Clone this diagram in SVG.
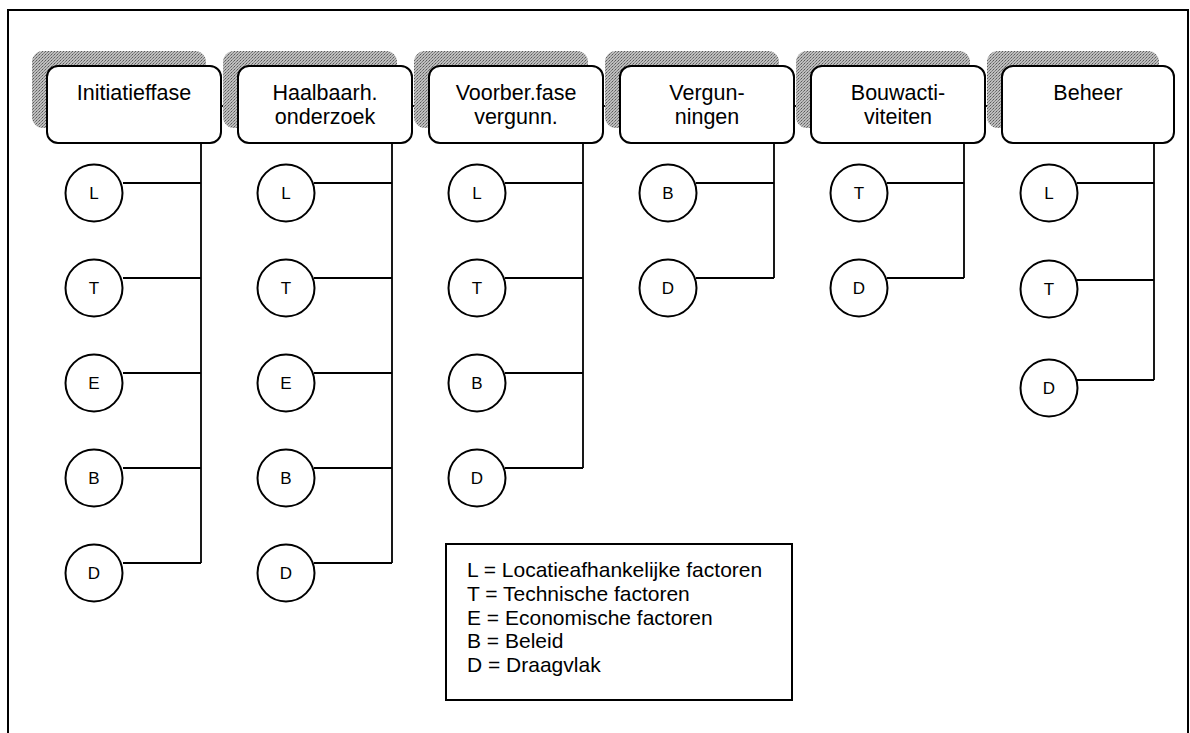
<svg xmlns="http://www.w3.org/2000/svg" width="1190" height="733" viewBox="0 0 1190 733">
<defs>
<pattern id="dots" width="3" height="3" patternUnits="userSpaceOnUse">
<rect width="3" height="3" fill="#bdbdbd"/>
<rect width="1" height="1" fill="#5a5a5a"/>
<rect x="2" y="1" width="1" height="1" fill="#7a7a7a"/>
<rect x="1" y="2" width="1" height="1" fill="#8a8a8a"/>
</pattern>
</defs>
<style>
.shadow{fill:url(#dots);stroke:none}
.box{fill:#fff;stroke:#000;stroke-width:2}
.circ{fill:#fff;stroke:#000;stroke-width:2}
.ln{fill:none;stroke:#000;stroke-width:1.8}
.bt{font-family:"Liberation Sans",Arial,sans-serif;font-size:21.5px;text-anchor:middle;fill:#000}
.ct{font-family:"Liberation Sans",Arial,sans-serif;font-size:17px;text-anchor:middle;fill:#000}
.lt{font-family:"Liberation Sans",Arial,sans-serif;font-size:21px;fill:#000}
</style>
<rect width="1190" height="733" fill="#fff"/>
<path d="M8,740 L8,10 L1188,10 L1188,740" fill="none" stroke="#000" stroke-width="2"/>

<g id="connectors">
<line class="ln" x1="221" y1="106" x2="238" y2="106"/>
<line class="ln" x1="412" y1="106" x2="429" y2="106"/>
<line class="ln" x1="603" y1="106" x2="620" y2="106"/>
<line class="ln" x1="794" y1="106" x2="811" y2="106"/>
<line class="ln" x1="985" y1="106" x2="1002" y2="106"/>
<path class="ln" d="M201,143 V563 M123,183 H201 M123,278 H201 M123,373 H201 M123,468 H201 M123,563 H201"/>
<path class="ln" d="M392,143 V563 M314,183 H392 M314,278 H392 M314,373 H392 M314,468 H392 M314,563 H392"/>
<path class="ln" d="M583,143 V468 M505,183 H583 M505,278 H583 M505,373 H583 M505,468 H583"/>
<path class="ln" d="M774,143 V278 M696,183 H774 M696,278 H774"/>
<path class="ln" d="M964,143 V278 M887,183 H964 M887,278 H964"/>
<path class="ln" d="M1154,143 V380 M1077,183 H1154 M1077,280 H1154 M1077,380 H1154"/>
</g>

<g id="phase1">
<rect class="shadow" x="32" y="51" width="174" height="77" rx="11"/>
<rect class="box" x="47" y="66" width="174" height="77" rx="11"/>
<text class="bt" x="134" y="100">Initiatieffase</text>
</g>
<g id="phase2">
<rect class="shadow" x="223" y="51" width="174" height="77" rx="11"/>
<rect class="box" x="238" y="66" width="174" height="77" rx="11"/>
<text class="bt" x="325" y="100">Haalbaarh.</text>
<text class="bt" x="325" y="124">onderzoek</text>
</g>
<g id="phase3">
<rect class="shadow" x="414" y="51" width="174" height="77" rx="11"/>
<rect class="box" x="429" y="66" width="174" height="77" rx="11"/>
<text class="bt" x="516" y="100">Voorber.fase</text>
<text class="bt" x="516" y="124">vergunn.</text>
</g>
<g id="phase4">
<rect class="shadow" x="605" y="51" width="174" height="77" rx="11"/>
<rect class="box" x="620" y="66" width="174" height="77" rx="11"/>
<text class="bt" x="707" y="100">Vergun-</text>
<text class="bt" x="707" y="124">ningen</text>
</g>
<g id="phase5">
<rect class="shadow" x="796" y="51" width="174" height="77" rx="11"/>
<rect class="box" x="811" y="66" width="174" height="77" rx="11"/>
<text class="bt" x="898" y="100">Bouwacti-</text>
<text class="bt" x="898" y="124">viteiten</text>
</g>
<g id="phase6">
<rect class="shadow" x="987" y="51" width="172" height="77" rx="11"/>
<rect class="box" x="1002" y="66" width="172" height="77" rx="11"/>
<text class="bt" x="1088" y="100">Beheer</text>
</g>

<g id="c1L"><circle class="circ" cx="94" cy="193" r="28.5"/><text class="ct" x="94" y="199">L</text></g>
<g id="c1T"><circle class="circ" cx="94" cy="288" r="28.5"/><text class="ct" x="94" y="294">T</text></g>
<g id="c1E"><circle class="circ" cx="94" cy="383" r="28.5"/><text class="ct" x="94" y="389">E</text></g>
<g id="c1B"><circle class="circ" cx="94" cy="478" r="28.5"/><text class="ct" x="94" y="484">B</text></g>
<g id="c1D"><circle class="circ" cx="94" cy="573" r="28.5"/><text class="ct" x="94" y="579">D</text></g>

<g id="c2L"><circle class="circ" cx="286" cy="193" r="28.5"/><text class="ct" x="286" y="199">L</text></g>
<g id="c2T"><circle class="circ" cx="286" cy="288" r="28.5"/><text class="ct" x="286" y="294">T</text></g>
<g id="c2E"><circle class="circ" cx="286" cy="383" r="28.5"/><text class="ct" x="286" y="389">E</text></g>
<g id="c2B"><circle class="circ" cx="286" cy="478" r="28.5"/><text class="ct" x="286" y="484">B</text></g>
<g id="c2D"><circle class="circ" cx="286" cy="573" r="28.5"/><text class="ct" x="286" y="579">D</text></g>

<g id="c3L"><circle class="circ" cx="477" cy="193" r="28.5"/><text class="ct" x="477" y="199">L</text></g>
<g id="c3T"><circle class="circ" cx="477" cy="288" r="28.5"/><text class="ct" x="477" y="294">T</text></g>
<g id="c3B"><circle class="circ" cx="477" cy="383" r="28.5"/><text class="ct" x="477" y="389">B</text></g>
<g id="c3D"><circle class="circ" cx="477" cy="478" r="28.5"/><text class="ct" x="477" y="484">D</text></g>

<g id="c4B"><circle class="circ" cx="668" cy="193" r="28.5"/><text class="ct" x="668" y="199">B</text></g>
<g id="c4D"><circle class="circ" cx="668" cy="288" r="28.5"/><text class="ct" x="668" y="294">D</text></g>

<g id="c5T"><circle class="circ" cx="859" cy="193" r="28.5"/><text class="ct" x="859" y="199">T</text></g>
<g id="c5D"><circle class="circ" cx="859" cy="288" r="28.5"/><text class="ct" x="859" y="294">D</text></g>

<g id="c6L"><circle class="circ" cx="1049" cy="193" r="28.5"/><text class="ct" x="1049" y="199">L</text></g>
<g id="c6T"><circle class="circ" cx="1049" cy="289" r="28.5"/><text class="ct" x="1049" y="295">T</text></g>
<g id="c6D"><circle class="circ" cx="1049" cy="388" r="28.5"/><text class="ct" x="1049" y="394">D</text></g>

<g id="legend">
<rect x="446" y="544" width="346" height="156" fill="#fff" stroke="#000" stroke-width="2"/>
<text class="lt" x="467" y="577">L = Locatieafhankelijke factoren</text>
<text class="lt" x="467" y="601">T = Technische factoren</text>
<text class="lt" x="467" y="625">E = Economische factoren</text>
<text class="lt" x="467" y="648">B = Beleid</text>
<text class="lt" x="467" y="672">D = Draagvlak</text>
</g>
</svg>
